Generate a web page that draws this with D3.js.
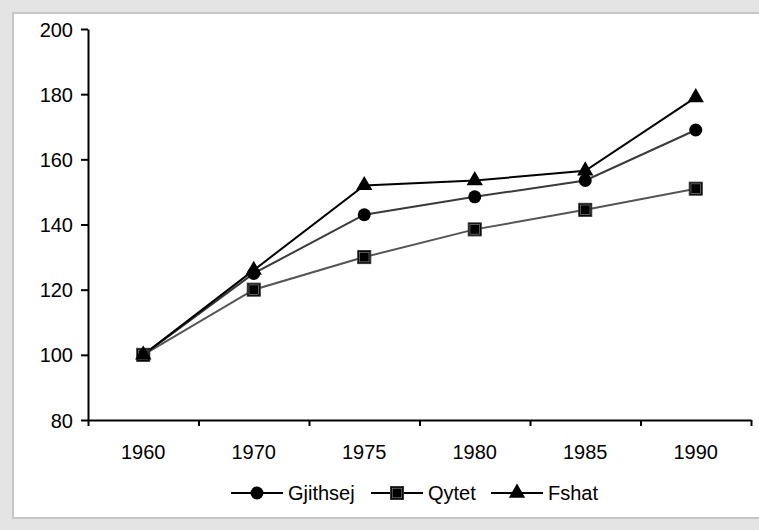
<!DOCTYPE html>
<html lang="en">
<head>
  <meta charset="UTF-8">
  <title>Gjithsej / Qytet / Fshat</title>
  <script src="https://d3js.org/d3.v7.min.js"></script>
  <style>
    body { margin: 0; background: #e4e4e4; }
    text { font-family: "Liberation Sans", Arial, sans-serif; }
  </style>
</head>
<body>
  <script>
    const years = ['1960', '1970', '1975', '1980', '1985', '1990']
    const gjithsej = [100, 125, 143, 148.5, 153.5, 169]
    const qytet = [100, 120, 130, 138.5, 144.5, 151]
    const fshat = [100, 126, 152, 153.5, 156.5, 179]
    const yTicks = [80, 100, 120, 140, 160, 180, 200]

    const w = 759
    const h = 530

    const svg = d3.select('body')
      .append('svg')
      .attr('width', w)
      .attr('height', h)

    // background + white panel
    svg.append('rect')
      .attr('width', w).attr('height', h)
      .attr('fill', '#e4e4e4')
    svg.append('rect')
      .attr('x', 13).attr('y', 13)
      .attr('width', 770).attr('height', 505)
      .attr('fill', '#fff')
      .attr('stroke', '#c6c6c6')
      .attr('stroke-width', 2)

    // scales
    const x = d3.scaleBand()
      .domain(years)
      .range([88, 751])
    const xEdge = d3.scaleLinear()
      .domain([0, years.length])
      .range([88, 751])
    const y = d3.scaleLinear()
      .domain([80, 200])
      .range([420, 29])

    // y axis
    const yAxis = svg.append('g')
      .attr('transform', 'translate(88,0)')
      .call(d3.axisLeft(y).tickValues(yTicks).tickSize(7).tickSizeOuter(0).tickPadding(8))
    yAxis.selectAll('text').attr('font-size', 20).attr('fill', '#000').attr('dy', '0.35em')

    // x axis: labels at band centers, ticks at band edges
    const xLabels = svg.append('g')
      .attr('transform', 'translate(0,420)')
      .call(d3.axisBottom(x).tickSize(0).tickPadding(25))
    xLabels.select('.domain').remove()
    xLabels.selectAll('text').attr('font-size', 20).attr('fill', '#000')

    svg.append('g')
      .attr('transform', 'translate(0,420)')
      .call(d3.axisBottom(xEdge).ticks(years.length).tickSize(6).tickSizeOuter(0).tickFormat(''))

    svg.selectAll('.domain, .tick line')
      .attr('stroke', '#000')
      .attr('stroke-width', 2)

    const series = [
      { name: 'Gjithsej', values: gjithsej, line: '#3a3a3a', shape: 'circle' },
      { name: 'Qytet', values: qytet, line: '#555', shape: 'square' },
      { name: 'Fshat', values: fshat, line: '#000', shape: 'triangle' }
    ]

    const line = d3.line()
      .x((d, i) => x(years[i]) + x.bandwidth() / 2)
      .y(d => y(d))

    function marker(g, shape) {
      if (shape === 'circle') {
        g.append('circle').attr('r', 6.5).attr('fill', '#000')
      } else if (shape === 'square') {
        g.append('rect').attr('x', -6.5).attr('y', -6.5).attr('width', 13).attr('height', 13)
          .attr('fill', '#000').attr('stroke', '#333').attr('stroke-width', 1)
        g.append('rect').attr('x', -4.8).attr('y', -4.8).attr('width', 9.6).attr('height', 9.6)
          .attr('fill', 'none').attr('stroke', '#999').attr('stroke-width', 0.6)
      } else {
        g.append('path')
          .attr('d', d3.symbol().type(d3.symbolTriangle).size(115)())
          .attr('fill', '#000')
      }
    }

    // lines
    series.forEach(s => {
      svg.append('path')
        .datum(s.values)
        .attr('d', line)
        .attr('fill', 'none')
        .attr('stroke', s.line)
        .attr('stroke-width', 2)
    })

    // markers
    series.forEach(s => {
      s.values.forEach((v, i) => {
        const g = svg.append('g')
          .attr('transform', `translate(${x(years[i]) + x.bandwidth() / 2},${y(v)})`)
        marker(g, s.shape)
      })
    })

    // legend
    const legendX = [231, 371, 491]
    series.forEach((s, i) => {
      const g = svg.append('g')
        .attr('transform', `translate(${legendX[i]},493)`)
      g.append('line')
        .attr('x1', 0).attr('x2', 52)
        .attr('stroke', '#000')
        .attr('stroke-width', 2)
      const m = g.append('g').attr('transform', 'translate(26,0)')
      marker(m, s.shape)
      g.append('text')
        .attr('x', 57)
        .attr('y', 7)
        .attr('font-size', 20)
        .text(s.name)
    })
  </script>
</body>
</html>
